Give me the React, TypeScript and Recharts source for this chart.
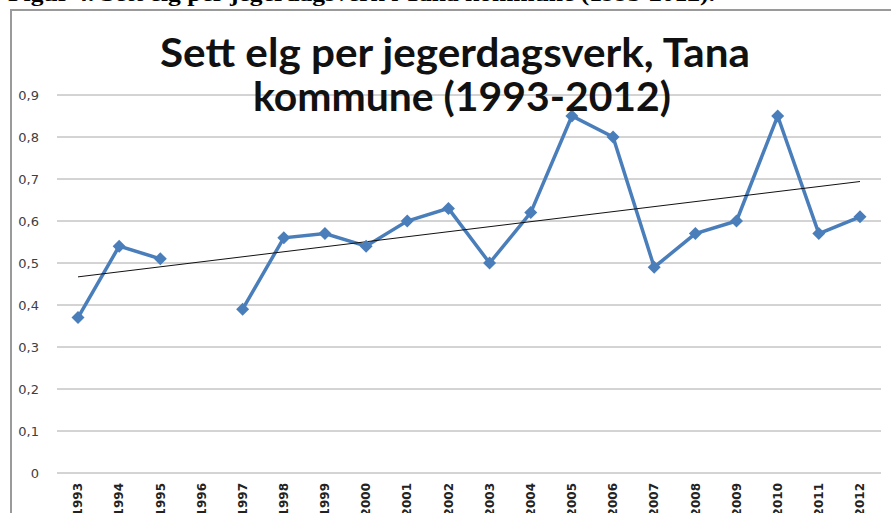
import React from "react"
import { LineChart, Line, XAxis, YAxis, CartesianGrid } from "recharts"

// år på x-aksen (1996 mangler data)
const years = [
  "1993", "1994", "1995", "1996", "1997", "1998", "1999", "2000", "2001", "2002",
  "2003", "2004", "2005", "2006", "2007", "2008", "2009", "2010", "2011", "2012",
]
const seenPerDay = [
  0.37, 0.54, 0.51, null, 0.39, 0.56, 0.57, 0.54, 0.6, 0.63,
  0.5, 0.62, 0.85, 0.8, 0.49, 0.57, 0.6, 0.85, 0.57, 0.61,
]
// trendlinje: endepunkter lest av bildet
const trendStart = 0.467
const trendEnd = 0.694
const yTicks = [0, 0.1, 0.2, 0.3, 0.4, 0.5, 0.6, 0.7, 0.8, 0.9]

const titleLines = ["Sett elg per jegerdagsverk, Tana", "kommune (1993-2012)"]
const caption = "Figur 4. Sett elg per jegerdagsverk i Tana kommune (1993-2012)."

const data = years.map((year, i) => ({
  year,
  value: seenPerDay[i],
  trend: i === 0 ? trendStart : i === years.length - 1 ? trendEnd : null,
}))

const BLUE = "#4A7EBB"

function Diamond(props: any) {
  const { cx, cy, index } = props
  if (cx == null || cy == null || props.value == null) return <g key={`d-${index}`} />
  const r = 6.5
  return (
    <path
      key={`d-${index}`}
      d={`M${cx},${cy - r}L${cx + r},${cy}L${cx},${cy + r}L${cx - r},${cy}Z`}
      fill={BLUE}
    />
  )
}

function YearTick({ x, y, payload }: any) {
  return (
    <text
      x={x}
      y={y}
      transform={`rotate(-90 ${x} ${y})`}
      textAnchor="end"
      dy="0.35em"
      fontFamily="DejaVu Sans"
      fontSize={12}
      fontWeight="bold"
      fill="#222"
    >
      {payload.value}
    </text>
  )
}

export default function App() {
  return (
    <div style={{ position: "fixed", left: 0, top: 0, width: 891, height: 513, overflow: "hidden", background: "#fff" }}>
      <div
        style={{
          position: "absolute", left: 10, top: 9, width: 1000, height: 1000,
          borderLeft: "2px solid #9a9a9a", borderTop: "2px solid #9a9a9a",
        }}
      />
      <div style={{ position: "absolute", left: 0, top: 0 }}>
        <LineChart width={891} height={513} data={data} margin={{ top: 95, right: 10, bottom: 0, left: 9 }}>
          <CartesianGrid vertical={false} stroke="#a8a8a8" strokeWidth={1} />
          <XAxis
            dataKey="year"
            interval={0}
            axisLine={false}
            tickLine={false}
            tickMargin={4}
            height={40}
            padding={{ left: 21, right: 21 }}
            tick={<YearTick />}
          />
          <YAxis
            domain={[0, 0.9]}
            ticks={yTicks}
            width={48}
            axisLine={false}
            tickLine={false}
            tickMargin={12}
            tickFormatter={(v: number) => String(v).replace(".", ",")}
            tick={{ fontFamily: "DejaVu Sans", fontSize: 13, fill: "#404040" }}
          />
          <Line
            dataKey="value"
            stroke={BLUE}
            strokeWidth={3.5}
            dot={<Diamond />}
            activeDot={false}
            isAnimationActive={false}
          />
          <Line
            dataKey="trend"
            stroke="#111"
            strokeWidth={1}
            dot={false}
            activeDot={false}
            connectNulls
            isAnimationActive={false}
          />
        </LineChart>
      </div>
      <svg width={891} height={513} style={{ position: "absolute", left: 0, top: 0, pointerEvents: "none" }}>
        <text x={8} y={1} fontFamily="Liberation Serif" fontWeight="bold" fontSize={20} textLength={707} lengthAdjust="spacingAndGlyphs" fill="#000">
          {caption}
        </text>
        <text x={455} y={67} textAnchor="middle" fontFamily="Lato" fontWeight="bold" fontSize={40} textLength={590} lengthAdjust="spacingAndGlyphs" fill="#111">
          {titleLines[0]}
        </text>
        <text x={462} y={111} textAnchor="middle" fontFamily="Lato" fontWeight="bold" fontSize={40} textLength={418} lengthAdjust="spacingAndGlyphs" fill="#111">
          {titleLines[1]}
        </text>
      </svg>
    </div>
  )
}
